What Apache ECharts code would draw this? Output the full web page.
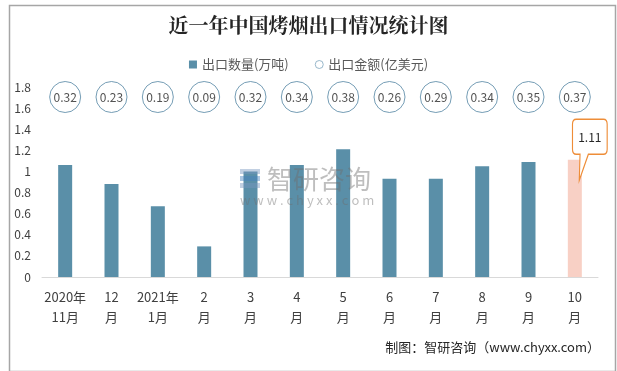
<!DOCTYPE html>
<html>
<head>
<meta charset="utf-8">
<script src="https://cdn.jsdelivr.net/npm/echarts@6/dist/echarts.min.js"></script>
<style>
html,body{margin:0;padding:0;background:#fff;}
#c{width:617px;height:371px;}
</style>
</head>
<body>
<div id="c"></div>
<script>
const categories = ['2020年\n11月','12\n月','2021年\n1月','2\n月','3\n月','4\n月','5\n月','6\n月','7\n月','8\n月','9\n月','10\n月'];
const volume = [1.06, 0.88, 0.67, 0.29, 1.00, 1.06, 1.21, 0.93, 0.93, 1.05, 1.09, 1.11];
const amount = [0.32, 0.23, 0.19, 0.09, 0.32, 0.34, 0.38, 0.26, 0.29, 0.34, 0.35, 0.37];
const yTicks = {min: 0, max: 1.8, interval: 0.2};

const BAR = '#5A8FA8';
const HILITE = '#F8D0C5';
const FONT = '"Microsoft YaHei","Noto Sans CJK SC",sans-serif';
const callout = 'path://M5,0 L41,0 Q46,0 46,5 L46,30 Q46,35 41,35 L21,35 L9,61 L10,35 L5,35 Q0,35 0,30 L0,5 Q0,0 5,0 Z';

const chart = echarts.init(document.getElementById('c'), null, {renderer: 'canvas'});
const last = volume.length - 1;
const WM = 'rgba(110,110,110,0.45)';

chart.setOption({
  animation: false,
  backgroundColor: '#fff',
  title: {
    text: '近一年中国烤烟出口情况统计图',
    left: 'center', top: 15, padding: 0,
    textStyle: {fontSize: 20, fontWeight: 'bold', color: '#262626', fontFamily: '"Noto Serif CJK SC","Noto Sans CJK SC",serif'}
  },
  legend: {
    top: 53, left: 'center', itemWidth: 8, itemHeight: 8, itemGap: 26,
    textStyle: {fontSize: 13, color: '#595959', fontFamily: FONT},
    data: [
      {name: '出口数量(万吨)', icon: 'rect'},
      {name: '出口金额(亿美元)', icon: 'circle', itemStyle: {color: '#fff', borderColor: '#7FA6BE', borderWidth: 1}}
    ]
  },
  grid: [
    {left: 42, right: 19, top: 87, bottom: 94},
    {left: 42, right: 19, top: 82, height: 30}
  ],
  xAxis: [
    {
      type: 'category', gridIndex: 0, data: categories,
      axisLine: {lineStyle: {color: '#D9D9D9'}},
      axisTick: {show: false},
      axisLabel: {color: '#404040', fontSize: 13, lineHeight: 20, margin: 10, interval: 0, fontFamily: FONT}
    },
    {type: 'category', gridIndex: 1, data: categories, show: false}
  ],
  yAxis: [
    {
      type: 'value', gridIndex: 0, min: yTicks.min, max: yTicks.max, interval: yTicks.interval,
      axisLine: {show: false}, axisTick: {show: false}, splitLine: {show: false},
      axisLabel: {color: '#404040', fontSize: 12, margin: 11, fontFamily: FONT}
    },
    {type: 'value', gridIndex: 1, min: 0, max: 1, show: false}
  ],
  series: [
    {
      name: '出口数量(万吨)', type: 'bar', xAxisIndex: 0, yAxisIndex: 0, barWidth: 14,
      itemStyle: {color: BAR},
      data: volume.map((v, i) => i === last ? {value: v, itemStyle: {color: HILITE}} : v),
      markPoint: {
        symbol: callout, symbolSize: [46, 61], symbolKeepAspect: true, symbolOffset: [15, -10],
        itemStyle: {color: '#fff', borderColor: '#EE8D38', borderWidth: 1.3},
        label: {show: true, position: 'inside', offset: [0, -12], color: '#262626', fontSize: 12, fontFamily: FONT,
          formatter: p => volume[last].toFixed(2)},
        data: [{coord: [last, volume[last]]}],
        z: 10
      }
    },
    {
      name: '出口金额(亿美元)', type: 'scatter', xAxisIndex: 1, yAxisIndex: 1,
      symbol: 'circle', symbolSize: 31,
      itemStyle: {color: '#fff', borderColor: '#5385A2', borderWidth: 1},
      label: {show: true, position: 'inside', color: '#262626', fontSize: 12, fontFamily: FONT,
        formatter: p => p.value[2].toFixed(2)},
      encode: {x: 0, y: 1},
      data: amount.map((v, i) => [i, 0.5, v])
    }
  ],
  graphic: [
    {type: 'rect', left: 7, top: 3, shape: {width: 606, height: 366}, style: {fill: 'none', stroke: '#A6A6A6', lineWidth: 1.5}, silent: true, z: 100},
    {type: 'text', right: 17, top: 341, style: {text: '制图：智研咨询（www.chyxx.com）', fontSize: 13, fill: '#262626', fontFamily: '"Noto Sans CJK SC",monospace'}},
    {type: 'group', left: 240, top: 166, children: [
      {type: 'rect', z: 50, shape: {x: 0, y: 2, width: 20, height: 5}, style: {fill: 'rgba(120,150,190,0.45)'}},
      {type: 'rect', z: 50, shape: {x: 0, y: 9, width: 20, height: 5}, style: {fill: 'rgba(70,130,190,0.45)'}},
      {type: 'rect', z: 50, shape: {x: 0, y: 16, width: 20, height: 5}, style: {fill: 'rgba(120,150,190,0.45)'}},
      {type: 'text', z: 50, x: 27, y: -1, style: {text: '智研咨询', fontSize: 26, fill: WM, fontFamily: FONT}},
      {type: 'text', z: 50, x: 0, y: 27, style: {text: 'w w w . c h y x x . c o m', fontSize: 13, fill: WM, fontFamily: FONT}}
    ]}
  ]
});
</script>
</body>
</html>
